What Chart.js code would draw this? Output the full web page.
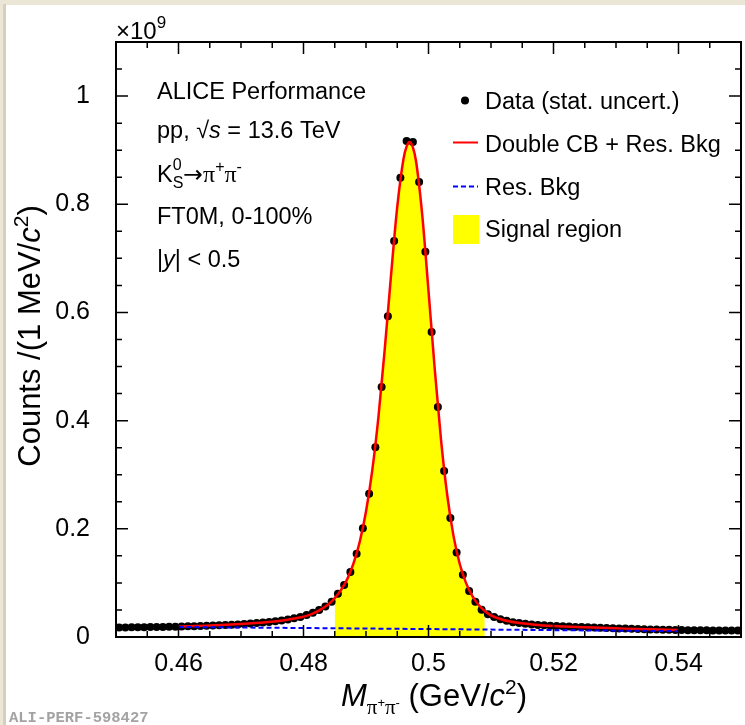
<!DOCTYPE html>
<html lang="en">
<head>
<meta charset="UTF-8">
<title>K0S invariant mass</title>
<style>
  html, body { margin: 0; padding: 0; background: #fff; }
  #wrap { width: 745px; height: 725px; }
</style>
</head>
<body>
<div id="wrap"><canvas id="myChart" width="745" height="725"></canvas></div>
<script src="https://cdn.jsdelivr.net/npm/chart.js@4.4.0/dist/chart.umd.min.js"></script>
<script>
// bin centres (GeV/c^2), 1 MeV bins
const massBins = [
  0.4505, 0.4515, 0.4525, 0.4535, 0.4545, 0.4555, 0.4565, 0.4575, 0.4585, 0.4595,
  0.4605, 0.4615, 0.4625, 0.4635, 0.4645, 0.4655, 0.4665, 0.4675, 0.4685, 0.4695,
  0.4705, 0.4715, 0.4725, 0.4735, 0.4745, 0.4755, 0.4765, 0.4775, 0.4785, 0.4795,
  0.4805, 0.4815, 0.4825, 0.4835, 0.4845, 0.4855, 0.4865, 0.4875, 0.4885, 0.4895,
  0.4905, 0.4915, 0.4925, 0.4935, 0.4945, 0.4955, 0.4965, 0.4975, 0.4985, 0.4995,
  0.5005, 0.5015, 0.5025, 0.5035, 0.5045, 0.5055, 0.5065, 0.5075, 0.5085, 0.5095,
  0.5105, 0.5115, 0.5125, 0.5135, 0.5145, 0.5155, 0.5165, 0.5175, 0.5185, 0.5195,
  0.5205, 0.5215, 0.5225, 0.5235, 0.5245, 0.5255, 0.5265, 0.5275, 0.5285, 0.5295,
  0.5305, 0.5315, 0.5325, 0.5335, 0.5345, 0.5355, 0.5365, 0.5375, 0.5385, 0.5395,
  0.5405, 0.5415, 0.5425, 0.5435, 0.5445, 0.5455, 0.5465, 0.5475, 0.5485, 0.5495
];
// counts per bin, x10^9
const counts = [
  0.0175, 0.0176, 0.0178, 0.0179, 0.0181, 0.0183, 0.0185, 0.0187, 0.0189, 0.0191,
  0.0194, 0.0197, 0.0200, 0.0203, 0.0207, 0.0211, 0.0216, 0.0221, 0.0227, 0.0233,
  0.0240, 0.0248, 0.0257, 0.0267, 0.0279, 0.0292, 0.0307, 0.0325, 0.0345, 0.0368,
  0.0405, 0.0450, 0.0500, 0.0565, 0.0650, 0.0800, 0.0960, 0.1200, 0.1540, 0.2010,
  0.2650, 0.3510, 0.4620, 0.5930, 0.7320, 0.8490, 0.9170, 0.9150, 0.8410, 0.7120,
  0.5640, 0.4250, 0.3070, 0.2200, 0.1560, 0.1150, 0.0850, 0.0650, 0.0505, 0.0420,
  0.0370, 0.0330, 0.0300, 0.0275, 0.0257, 0.0243, 0.0232, 0.0223, 0.0215, 0.0208,
  0.0202, 0.0197, 0.0192, 0.0187, 0.0183, 0.0179, 0.0175, 0.0171, 0.0167, 0.0163,
  0.0159, 0.0155, 0.0151, 0.0147, 0.0143, 0.0140, 0.0137, 0.0134, 0.0132, 0.0130,
  0.0128, 0.0127, 0.0126, 0.0124, 0.0123, 0.0122, 0.0121, 0.0120, 0.0119, 0.0118
];
// double CB + res. bkg fit
const fitMass = [0.460, 0.465, 0.470, 0.474, 0.477, 0.479, 0.481, 0.482, 0.483, 0.484,
  0.485, 0.486, 0.487, 0.488, 0.489, 0.490, 0.491, 0.492, 0.493, 0.494,
  0.495, 0.496, 0.4965, 0.497, 0.4975, 0.498, 0.499, 0.500, 0.501, 0.502,
  0.503, 0.504, 0.505, 0.506, 0.507, 0.508, 0.509, 0.510, 0.512, 0.514,
  0.517, 0.520, 0.525, 0.530, 0.535, 0.540];
const fitCounts = [0.0194, 0.0211, 0.0239, 0.0272, 0.0310, 0.0350, 0.0410, 0.0460, 0.0525, 0.0605,
  0.0720, 0.0870, 0.1070, 0.1360, 0.1760, 0.2320, 0.3080, 0.4080, 0.5320, 0.6680,
  0.7950, 0.8840, 0.9070, 0.9150, 0.9050, 0.8800, 0.7800, 0.6400, 0.4950, 0.3650,
  0.2620, 0.1870, 0.1350, 0.1000, 0.0760, 0.0595, 0.0480, 0.0400, 0.0315, 0.0268,
  0.0228, 0.0204, 0.0180, 0.0160, 0.0141, 0.0128];
// residual background
const bkgMass = [0.46, 0.48, 0.50, 0.52, 0.54];
const bkgCounts = [0.0185, 0.0166, 0.0147, 0.0127, 0.0108];
// signal region limits
const signalLo = 0.485;
const signalHi = 0.509;

const xTickVals = [0.46, 0.48, 0.5, 0.52, 0.54];
const xTickLabels = ['0.46', '0.48', '0.5', '0.52', '0.54'];
const yTickVals = [0, 0.2, 0.4, 0.6, 0.8, 1];
const yTickLabels = ['0', '0.2', '0.4', '0.6', '0.8', '1'];

const SANS = '"Liberation Sans", Arial, Helvetica, sans-serif';
const SERIF = '"Liberation Serif", "Times New Roman", serif';

const toXY = (xs, ys) => xs.map((x, i) => ({ x: x, y: ys[i] }));
const signalPts = toXY(fitMass, fitCounts).filter(p => p.x >= signalLo - 1e-9 && p.x <= signalHi + 1e-9);

// draws a run of text pieces (for sub/superscripts), returns end x
function drawRuns(ctx, x, y, parts) {
  for (const p of parts) {
    ctx.font = p.f;
    ctx.fillText(p.t, x, y + (p.dy || 0));
    if (!p.stack) x += ctx.measureText(p.t).width;
  }
  return x;
}
function runsWidth(ctx, parts) {
  let w = 0;
  for (const p of parts) {
    ctx.font = p.f;
    if (!p.stack) w += ctx.measureText(p.t).width;
  }
  return w;
}

const rootStyle = {
  id: 'rootStyle',
  beforeDraw(chart) {
    const ctx = chart.ctx;
    ctx.save();
    ctx.fillStyle = '#ffffff';
    ctx.fillRect(0, 0, chart.width, chart.height);
    ctx.fillStyle = '#ebe6d6';
    ctx.fillRect(0, 0, chart.width, 5);
    ctx.fillRect(0, 0, 6, chart.height);
    ctx.fillStyle = '#d6d0bd';
    ctx.fillRect(3, 4, 3, chart.height);
    ctx.restore();
  },
  afterDraw(chart) {
    const ctx = chart.ctx;
    const a = chart.chartArea;
    const xs = chart.scales.x, ys = chart.scales.y;
    ctx.save();

    // frame
    ctx.strokeStyle = '#000';
    ctx.lineWidth = 2;
    ctx.strokeRect(a.left, a.top, a.right - a.left, a.bottom - a.top);

    // inward ticks, all four sides
    ctx.lineWidth = 1.5;
    ctx.beginPath();
    for (let i = 0; i <= 20; i++) {
      const v = 0.45 + i * 0.005;
      const px = xs.getPixelForValue(v);
      const major = xTickVals.some(t => Math.abs(t - v) < 1e-6);
      const len = major ? 12 : 6;
      ctx.moveTo(px, a.bottom); ctx.lineTo(px, a.bottom - len);
      ctx.moveTo(px, a.top); ctx.lineTo(px, a.top + len);
    }
    for (let i = 0; i <= 22; i++) {
      const v = i * 0.05;
      const py = ys.getPixelForValue(v);
      const major = yTickVals.some(t => Math.abs(t - v) < 1e-6);
      const len = major ? 12 : 6;
      ctx.moveTo(a.left, py); ctx.lineTo(a.left + len, py);
      ctx.moveTo(a.right, py); ctx.lineTo(a.right - len, py);
    }
    ctx.stroke();

    ctx.fillStyle = '#000';
    ctx.textBaseline = 'alphabetic';
    ctx.textAlign = 'left';

    // x10^9 exponent
    drawRuns(ctx, a.left, 38.5, [
      { t: '\u00d710', f: '24px ' + SANS },
      { t: '9', f: '17px ' + SANS, dy: -11 }
    ]);

    // text block
    const F = '23.5px ' + SANS;
    const FI = 'italic 23.5px ' + SANS;
    const FS = '16px ' + SANS;
    const tx = 157;
    ctx.font = F;
    ctx.fillText('ALICE Performance', tx, 99);
    drawRuns(ctx, tx, 137.5, [
      { t: 'pp, ', f: F },
      { t: '\u221a', f: F },
      { t: 's', f: FI },
      { t: ' = 13.6 TeV', f: F }
    ]);
    drawRuns(ctx, tx, 181.5, [
      { t: 'K', f: F },
      { t: '0', f: FS, dy: -12, stack: true },
      { t: 'S', f: FS, dy: 6 },
      { t: '\u2192', f: '23.5px "DejaVu Sans", ' + SANS },
      { t: '\u03c0', f: '24px ' + SERIF },
      { t: '+', f: FS, dy: -10 },
      { t: '\u03c0', f: '24px ' + SERIF },
      { t: '-', f: FS, dy: -10 }
    ]);
    ctx.font = F;
    ctx.fillText('FT0M, 0-100%', tx, 224);
    drawRuns(ctx, tx, 266.5, [
      { t: '|', f: F },
      { t: 'y', f: FI },
      { t: '| < 0.5', f: F }
    ]);

    // legend
    const lx0 = 453, lx1 = 478, ltx = 485;
    ctx.beginPath();
    ctx.arc(465, 100.5, 4, 0, Math.PI * 2);
    ctx.fill();
    ctx.font = F;
    ctx.fillText('Data (stat. uncert.)', ltx, 108.5);
    ctx.strokeStyle = '#ff0000';
    ctx.lineWidth = 2;
    ctx.beginPath(); ctx.moveTo(lx0, 142.5); ctx.lineTo(lx1, 142.5); ctx.stroke();
    ctx.fillText('Double CB + Res. Bkg', ltx, 151.5);
    ctx.strokeStyle = '#0000ff';
    ctx.setLineDash([5, 3]);
    ctx.beginPath(); ctx.moveTo(lx0, 186.5); ctx.lineTo(lx1, 186.5); ctx.stroke();
    ctx.setLineDash([]);
    ctx.fillText('Res. Bkg', ltx, 195);
    ctx.fillStyle = '#ffff00';
    ctx.fillRect(lx0, 215, 26, 29);
    ctx.fillStyle = '#000';
    ctx.fillText('Signal region', ltx, 237);

    // y axis title
    const yParts = [
      { t: 'Counts /(1 MeV/', f: '31px ' + SANS },
      { t: 'c', f: 'italic 31px ' + SANS },
      { t: '2', f: '21px ' + SANS, dy: -12 },
      { t: ')', f: '31px ' + SANS }
    ];
    ctx.save();
    ctx.translate(39.5, 336);
    ctx.rotate(-Math.PI / 2);
    drawRuns(ctx, -runsWidth(ctx, yParts) / 2, 0, yParts);
    ctx.restore();

    // x axis title
    const xParts = [
      { t: 'M', f: 'italic 31px ' + SANS },
      { t: '\u03c0', f: '21px ' + SERIF, dy: 8 },
      { t: '+', f: '13px ' + SANS, dy: 1 },
      { t: '\u03c0', f: '21px ' + SERIF, dy: 8 },
      { t: '-', f: '13px ' + SANS, dy: 1 },
      { t: ' (GeV/', f: '31px ' + SANS },
      { t: 'c', f: 'italic 31px ' + SANS },
      { t: '2', f: '21px ' + SANS, dy: -12 },
      { t: ')', f: '31px ' + SANS }
    ];
    drawRuns(ctx, 434 - runsWidth(ctx, xParts) / 2, 706, xParts);

    // figure id
    ctx.fillStyle = '#a3a3a3';
    ctx.font = 'bold 15.5px "Liberation Mono", "DejaVu Sans Mono", monospace';
    ctx.fillText('ALI-PERF-598427', 9, 722);

    ctx.restore();
  }
};

const ctx = document.getElementById('myChart');

new Chart(ctx, {
  type: 'line',
  data: {
    datasets: [
      {
        label: 'Res. Bkg',
        data: toXY(bkgMass, bkgCounts),
        borderColor: '#0000ff',
        borderWidth: 2,
        borderDash: [5, 3],
        pointRadius: 0,
        fill: false,
        order: 1
      },
      {
        label: 'Double CB + Res. Bkg',
        data: toXY(fitMass, fitCounts),
        borderColor: '#ff0000',
        borderWidth: 2.5,
        cubicInterpolationMode: 'monotone',
        pointRadius: 0,
        fill: false,
        order: 2
      },
      {
        label: 'Data (stat. uncert.)',
        data: toXY(massBins, counts),
        showLine: false,
        pointRadius: 4,
        pointBackgroundColor: '#000',
        pointBorderColor: '#000',
        pointBorderWidth: 0,
        order: 3
      },
      {
        label: 'Signal region',
        data: signalPts,
        borderWidth: 0,
        borderColor: 'rgba(0,0,0,0)',
        backgroundColor: '#ffff00',
        cubicInterpolationMode: 'monotone',
        pointRadius: 0,
        fill: 'origin',
        order: 4
      }
    ]
  },
  options: {
    responsive: false,
    animation: false,
    devicePixelRatio: 1,
    layout: { padding: { left: 6, top: 42, right: 2, bottom: 0 } },
    plugins: {
      legend: { display: false },
      tooltip: { enabled: false }
    },
    scales: {
      x: {
        type: 'linear',
        min: 0.45,
        max: 0.55,
        grid: { display: false, drawTicks: false },
        border: { display: false },
        afterBuildTicks: axis => { axis.ticks = xTickVals.map(v => ({ value: v })); },
        afterFit: axis => { axis.height = 88; },
        ticks: {
          color: '#000',
          padding: 12,
          maxRotation: 0,
          font: { family: SANS, size: 25 },
          callback: (v, i) => xTickLabels[i]
        }
      },
      y: {
        type: 'linear',
        min: 0,
        max: 1.1,
        grid: { display: false, drawTicks: false },
        border: { display: false },
        afterBuildTicks: axis => { axis.ticks = yTickVals.map(v => ({ value: v })); },
        afterFit: axis => { axis.width = 110; },
        ticks: {
          color: '#000',
          padding: 26,
          font: { family: SANS, size: 25 },
          callback: (v, i) => yTickLabels[i]
        }
      }
    }
  },
  plugins: [rootStyle]
});
</script>
</body>
</html>
